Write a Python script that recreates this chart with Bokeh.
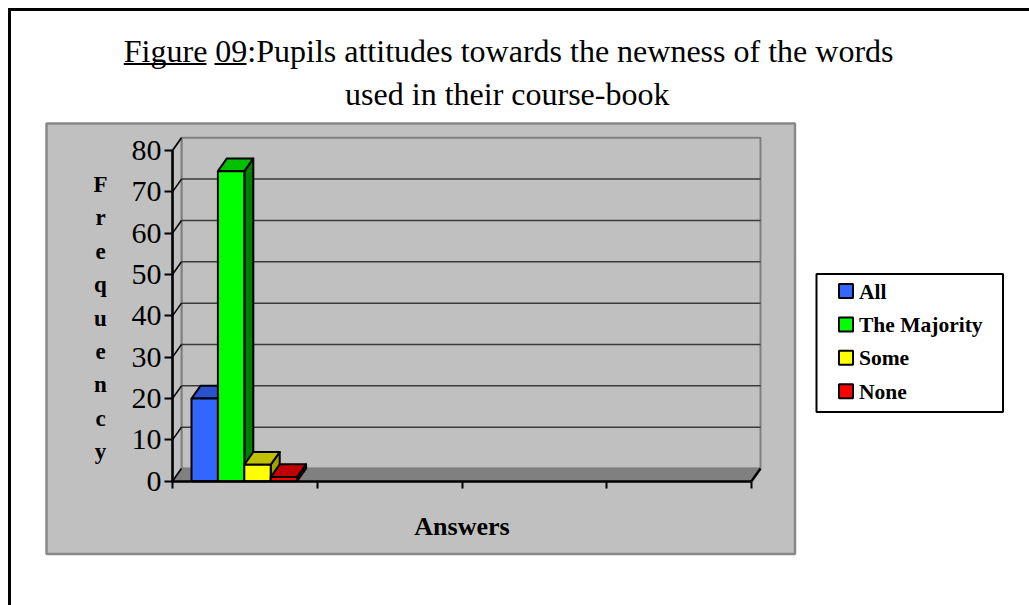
from bokeh.plotting import figure
from bokeh.models import Range1d, LinearAxis, FixedTicker, CustomLabelingPolicy
from bokeh.core.properties import value
from bokeh.embed import file_html
from bokeh.resources import INLINE

# ---------------- data ----------------
categories = ["All", "The Majority", "Some", "None"]
values = [20, 75, 4, 1]
front_colors = ["#3366FF", "#00FF00", "#FFFF00", "#FF0000"]
top_colors = ["#2952CC", "#00C000", "#C0C000", "#C00000"]
side_colors = ["#1A3380", "#008000", "#A0A000", "#800000"]
y_ticks = [0, 10, 20, 30, 40, 50, 60, 70, 80]
x_slot_ticks = [0, 1, 2, 3, 4]
title_line1 = "Figure 09:Pupils attitudes towards the newness of the words"
title_line2 = "used in their course-book"
y_title = "Frequency"
x_title = "Answers"

# ---------------- layout helpers (page pixels -> data units) ----------------
W, H = 1029, 605
PX0 = 172.0          # page x of category axis origin
CAT_W = 144.75       # page px per category slot
ZERO_Y = 480.7       # page y of value 0
UNIT = 4.134         # page px per value unit
SERIF = value("Liberation Serif")
TFIX = 8.0           # text baseline correction (px)


def X(px):
    return (px - PX0) / CAT_W


def Y(py):
    return (ZERO_Y - py) / UNIT


def YT(py, fix=TFIX):
    return Y(py - fix)


DX = 9.0 / CAT_W
DY = 12.7 / UNIT
BW = 26.4 / CAT_W
GROUP_LEFT = 19.0 / CAT_W
YMAX = y_ticks[-1]
XMAX = x_slot_ticks[-1]

p = figure(width=W, height=H, output_backend="svg", toolbar_location=None,
           x_range=Range1d(X(0), X(W)), y_range=Range1d(Y(H), Y(0)),
           x_axis_type=None, y_axis_type=None, min_border=0,
           background_fill_color="white", border_fill_color="white")
p.outline_line_color = None
p.grid.visible = False

# outer page frame (left and top edges)
p.segment(x0=[X(9)], y0=[Y(7.5)], x1=[X(9)], y1=[Y(H)], line_color="black", line_width=3)
p.segment(x0=[X(7.5)], y0=[Y(9)], x1=[X(W)], y1=[Y(9)], line_color="black", line_width=3)

# chart area
p.quad(left=[X(46)], right=[X(794.5)], bottom=[Y(553.5)], top=[Y(123)],
       fill_color="#C0C0C0", line_color="#888888", line_width=2.5)

# back wall
p.quad(left=[DX], right=[XMAX + DX], bottom=[DY], top=[YMAX + DY],
       fill_color="#C0C0C0", line_color="#808080", line_width=2)
# side wall
p.patch(x=[0, DX, DX, 0], y=[0, DY, YMAX + DY, YMAX],
        fill_color="#C0C0C0", line_color="#808080", line_width=2)
# floor
p.patch(x=[0, XMAX, XMAX + DX, DX], y=[0, 0, DY, DY],
        fill_color="#808080", line_color="#808080", line_width=1.5)

# gridlines on back wall
grid_vals = y_ticks[1:-1]
p.segment(x0=[DX] * len(grid_vals), y0=[t + DY for t in grid_vals],
          x1=[XMAX + DX] * len(grid_vals), y1=[t + DY for t in grid_vals],
          line_color="#3A3A3A", line_width=1.5)
# gridlines on side wall
p.segment(x0=[0] * len(y_ticks), y0=y_ticks, x1=[DX] * len(y_ticks),
          y1=[t + DY for t in y_ticks], line_color="black", line_width=1.5)
# right end of floor front edge
p.segment(x0=[XMAX], y0=[0], x1=[XMAX + DX], y1=[DY], line_color="black", line_width=2.5)

# bars
for i, (cat, v) in enumerate(zip(categories, values)):
    l = GROUP_LEFT + i * BW
    r = l + BW
    p.patch(x=[r, r + DX, r + DX, r], y=[0, DY, v + DY, v],
            fill_color=side_colors[i], line_color="black", line_width=2, line_join="round")
    p.patch(x=[l, r, r + DX, l + DX], y=[v, v, v + DY, v + DY],
            fill_color=top_colors[i], line_color="black", line_width=2, line_join="round")
    p.quad(left=[l], right=[r], bottom=[0], top=[v],
           fill_color=front_colors[i], line_color="black", line_width=2)

# axes
yaxis = LinearAxis(fixed_location=0, bounds=(0, YMAX), ticker=FixedTicker(ticks=y_ticks))
yaxis.axis_line_width = 2.5
yaxis.axis_line_color = "black"
yaxis.major_tick_line_width = 2
yaxis.major_tick_line_color = "black"
yaxis.major_tick_out = 8
yaxis.major_tick_in = 0
yaxis.minor_tick_out = 0
yaxis.minor_tick_in = 0
yaxis.major_label_standoff = 3
yaxis.major_label_text_font = "Liberation Serif"
yaxis.major_label_text_font_size = "30px"
yaxis.major_label_text_color = "black"
p.add_layout(yaxis, "left")

xaxis = LinearAxis(fixed_location=0, bounds=(0, XMAX), ticker=FixedTicker(ticks=x_slot_ticks))
xaxis.axis_line_width = 2.5
xaxis.axis_line_color = "black"
xaxis.major_tick_line_width = 2
xaxis.major_tick_line_color = "black"
xaxis.major_tick_out = 7
xaxis.major_tick_in = 0
xaxis.minor_tick_out = 0
xaxis.minor_tick_in = 0
xaxis.major_label_policy = CustomLabelingPolicy(code="""
for (let i = 0; i < indices.size; i++) {
  if (typeof indices.unset === "function") { indices.unset(i) } else { indices.set(i, false) }
}
return indices
""")
p.add_layout(xaxis, "below")

# axis titles
p.text(x=[X(100)] * len(y_title), y=[YT(192 + k * 33.4) for k in range(len(y_title))],
       text=list(y_title), text_font=SERIF, text_font_size=value("23px"),
       text_font_style="bold", text_align="center", text_baseline="alphabetic",
       text_color="black")
p.text(x=[XMAX / 2], y=[YT(534)], text=[x_title], text_font=SERIF,
       text_font_size=value("26px"), text_font_style="bold", text_align="center",
       text_baseline="alphabetic", text_color="black")

# title
p.text(x=[X(123.3)], y=[YT(58.5, 8.5)], text=[title_line1], text_font=SERIF,
       text_font_size=value("32px"), text_align="left", text_baseline="alphabetic",
       text_color="black")
p.text(x=[X(506.8)], y=[YT(101.5, 8.5)], text=[title_line2], text_font=SERIF,
       text_font_size=value("32px"), text_align="center", text_baseline="alphabetic",
       text_color="black")
p.segment(x0=[X(123.3), X(214)], y0=[Y(63.5)] * 2, x1=[X(206), X(246)], y1=[Y(63.5)] * 2,
          line_color="black", line_width=2)

# legend
p.quad(left=[X(816)], right=[X(1002.5)], bottom=[Y(411.5)], top=[Y(273.5)],
       fill_color="white", line_color="black", line_width=2)
leg_y = [290.5 + k * 33.4 for k in range(len(categories))]
p.quad(left=[X(838.5)] * 4, right=[X(852.5)] * 4,
       bottom=[Y(yy + 7) for yy in leg_y], top=[Y(yy - 7) for yy in leg_y],
       fill_color=front_colors, line_color="black", line_width=2)
p.text(x=[X(858.5)] * 4, y=[YT(yy + 7.5, 7) for yy in leg_y], text=categories,
       text_font=SERIF, text_font_size=value("21.5px"), text_font_style="bold",
       text_align="left", text_baseline="alphabetic", text_color="black")

open("out.html", "w").write(file_html(p, INLINE))
